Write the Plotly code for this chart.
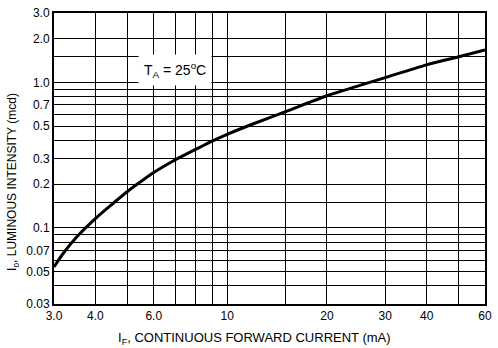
import plotly.graph_objects as go

# Curve data
current_ma = [3.0, 3.2, 3.5, 4.0, 4.5, 5.0, 5.5, 6.0, 7.0, 8.0, 9.0, 10, 12, 15, 20, 25, 30, 40, 50, 60]
intensity_mcd = [0.054, 0.067, 0.086, 0.116, 0.146, 0.178, 0.209, 0.24, 0.295, 0.345, 0.395, 0.44, 0.52,
                 0.63, 0.81, 0.95, 1.08, 1.32, 1.50, 1.67]

# Labeled ticks and extra (unlabeled) grid lines
x_ticks = [3, 4, 6, 10, 20, 30, 40, 60]
x_labels = ["3.0", "4.0", "6.0", "10", "20", "30", "40", "60"]
x_minor_grid = [5, 7, 8, 9, 15, 50]
y_ticks = [0.03, 0.05, 0.07, 0.1, 0.2, 0.3, 0.5, 0.7, 1.0, 2.0, 3.0]
y_labels = ["0.03", "0.05", "0.07", "0.1", "0.2", "0.3", "0.5", "0.7", "1.0", "2.0", "3.0"]
y_minor_grid = [0.04, 0.06, 0.08, 0.09, 0.15, 0.4, 0.6, 0.8, 0.9, 1.5]

FONT = "Liberation Sans Narrow, Arial Narrow, Liberation Sans, Arial, sans-serif"

fig = go.Figure()
fig.add_trace(go.Scatter(
    x=current_ma, y=intensity_mcd, mode="lines",
    line=dict(color="black", width=3, shape="spline", smoothing=0.8),
    showlegend=False, hoverinfo="skip",
))

axis_common = dict(
    type="log", showgrid=True, gridcolor="black", gridwidth=1,
    showline=True, linecolor="black", linewidth=2, mirror=True,
    ticks="", zeroline=False,
    tickfont=dict(family=FONT, size=12, color="black"),
)

fig.update_xaxes(
    **axis_common,
    range=[0.47712125472, 1.77815125038],
    tickmode="array", tickvals=x_ticks, ticktext=x_labels,
    minor=dict(tickmode="array", tickvals=x_minor_grid, showgrid=True,
               gridcolor="black", gridwidth=1, ticks=""),
)
fig.update_yaxes(
    **axis_common,
    range=[-1.52287874528, 0.47712125472],
    tickmode="array", tickvals=y_ticks, ticktext=y_labels,
    minor=dict(tickmode="array", tickvals=y_minor_grid, showgrid=True,
               gridcolor="black", gridwidth=1, ticks=""),
)

fig.add_annotation(
    xref="paper", yref="paper", x=0.196, y=0.804, yanchor="middle",
    text="T<sub>A</sub> = 25<sup>o</sup>C", showarrow=False,
    font=dict(family=FONT, size=14, color="black"),
    bgcolor="white", borderpad=5,
)
fig.add_annotation(
    xref="paper", yref="paper", x=0.466, y=-0.118, yanchor="middle",
    text="I<sub>F</sub>, CONTINUOUS FORWARD CURRENT (mA)", showarrow=False,
    font=dict(family=FONT, size=13, color="black"),
)
fig.add_annotation(
    xref="paper", yref="paper", x=-0.118, y=0.42, textangle=-90,
    text="I<sub>o</sub>, LUMINOUS INTENSITY (mcd)", showarrow=False,
    font=dict(family=FONT, size=12, color="black"),
)

fig.update_layout(
    width=498, height=348,
    margin=dict(l=54, r=6, t=13, b=44),
    paper_bgcolor="white", plot_bgcolor="white",
)

fig.write_html("out.html")
